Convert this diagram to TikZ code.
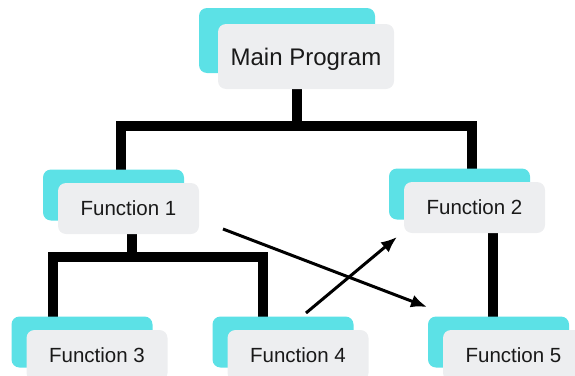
\documentclass[tikz,border=0pt]{standalone}
\usepackage{fontspec}
\setmainfont{Liberation Sans}
\usepackage{xcolor}
\usetikzlibrary{arrows.meta,shadows,backgrounds}
\definecolor{tealbox}{HTML}{5CE1E6}
\definecolor{greybox}{HTML}{EDEEF0}

\begin{document}
\begin{tikzpicture}[x=1pt, y=-1pt,
  card/.style={fill=greybox, rounded corners=8pt, inner sep=0pt, text=black!90},
  mainbox/.style={card, minimum width=176pt, minimum height=65pt, text depth=0pt, font=\fontsize{24}{28}\selectfont,
    general shadow={fill=tealbox, shadow xshift=-19pt, shadow yshift=16pt}},
  funbox/.style={card, minimum width=141pt, minimum height=51pt, font=\fontsize{20.5}{24}\selectfont,
    general shadow={fill=tealbox, shadow xshift=-15pt, shadow yshift=13.5pt}},
  tree/.style={line width=10pt, line join=miter},
  link/.style={-{Latex[length=16pt,width=13pt]}, line width=3pt},
]
\useasboundingbox (0,0) rectangle (575,375);
% === Boxes ===
\node[mainbox] (main) at (306,56.5) {Main Program};
\node[funbox] (fun1) at (128.5,208.5) {Function 1};
\node[funbox] (fun2) at (474.5,207.5) {Function 2};
\node[funbox] (fun3) at (97,355.5) {Function 3};
\node[funbox] (fun4) at (298,355.5) {Function 4};
\node[funbox] (fun5) at (513.5,355.5) {Function 5};
% === Tree lines ===
\coordinate (top) at (297,125.5);
\coordinate (topL) at (121,125.5);
\coordinate (topR) at (472,125.5);
\coordinate (sub) at (131.5,257);
\coordinate (subL) at (53,257);
\coordinate (subR) at (263,257);
\coordinate (rstem) at (492.5,280);
\begin{scope}[on background layer]
\draw[tree] (main.south -| top) -- (top);
\draw[tree] (fun1.north -| topL) |- (top) -| (fun2.north -| topR);
\draw[tree] (fun1.south -| sub) -- (sub);
\draw[tree] (fun3.north -| subL) |- (sub) -| (fun4.north -| subR);
\draw[tree] (fun2.south -| rstem) -- (fun5.north -| rstem);
\end{scope}
% === Crossing calls ===
\coordinate (call1) at (223,229);
\coordinate (call1end) at (427,307);
\coordinate (call2) at (306,313);
\coordinate (call2end) at (397,237);
\draw[link] (call1) -- (call1end);
\draw[link] (call2) -- (call2end);
\end{tikzpicture}
\end{document}
